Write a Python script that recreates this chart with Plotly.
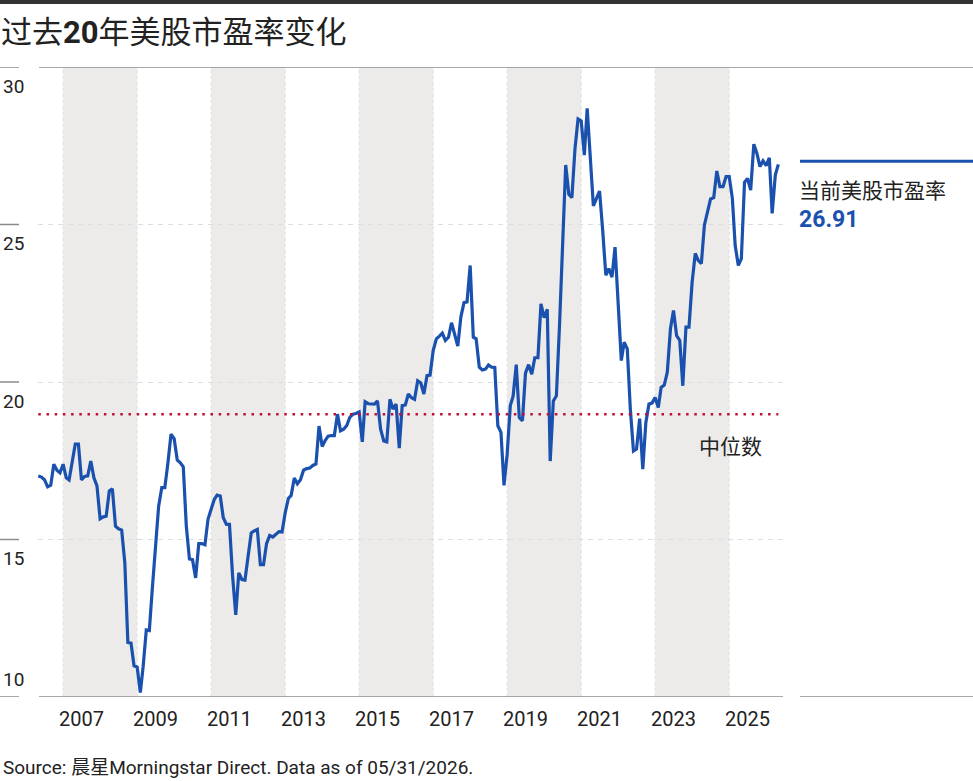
import pandas as pd
import plotly.graph_objects as go

# monthly P/E, first month May 2006
pe = [
    17.02, 16.98, 16.90, 16.67, 16.72, 17.39, 17.20, 17.12, 17.39, 16.96,
    16.89, 17.55, 18.03, 18.03, 16.89, 17.00, 17.02, 17.49, 16.96, 16.70,
    15.66, 15.72, 15.74, 16.54, 16.61, 15.42, 15.34, 15.30, 14.26, 11.73,
    11.71, 10.99, 10.95, 10.14, 10.97, 12.13, 12.11, 13.51, 14.89, 16.06,
    16.65, 16.65, 17.44, 18.34, 18.20, 17.52, 17.44, 17.31, 15.42, 14.38,
    14.36, 13.78, 14.87, 14.87, 14.83, 15.64, 15.96, 16.27, 16.41, 16.38,
    15.69, 15.48, 15.48, 13.83, 12.61, 13.94, 13.73, 13.71, 14.47, 15.21,
    15.27, 15.32, 14.20, 14.20, 14.87, 15.13, 15.08, 15.16, 15.25, 15.24,
    15.85, 16.30, 16.40, 16.95, 16.77, 16.90, 17.20, 17.25, 17.27, 17.35,
    17.40, 18.60, 17.95, 18.15, 18.28, 18.30, 18.30, 18.98, 18.45, 18.50,
    18.62, 18.88, 18.98, 19.00, 19.05, 18.10, 19.37, 19.31, 19.30, 19.30,
    19.40, 18.50, 18.13, 18.10, 19.45, 19.14, 19.30, 17.90, 19.25, 19.27,
    19.62, 19.50, 19.45, 20.04, 19.97, 19.62, 20.20, 20.22, 21.00, 21.37,
    21.45, 21.55, 21.32, 21.42, 21.88, 21.47, 21.14, 22.06, 22.52, 22.54,
    23.70, 21.42, 21.37, 20.47, 20.38, 20.41, 20.54, 20.47, 20.46, 18.61,
    18.40, 16.72, 17.70, 19.25, 19.55, 20.55, 18.87, 18.77, 20.28, 20.55,
    20.25, 20.77, 20.77, 22.48, 22.04, 22.31, 17.49, 19.40, 19.56, 21.80,
    24.40, 26.89, 25.96, 25.85, 27.42, 28.35, 28.29, 27.20, 28.69, 27.20,
    25.59, 25.83, 26.06, 24.82, 23.39, 23.60, 23.33, 24.28, 22.43, 20.68,
    21.26, 21.05, 19.14, 17.81, 17.87, 18.84, 17.23, 18.71, 19.30, 19.33,
    19.51, 19.19, 19.83, 19.90, 20.31, 21.69, 22.27, 21.47, 21.32, 19.88,
    21.74, 21.74, 23.17, 24.08, 23.86, 23.76, 24.98, 25.46, 25.81, 25.85,
    26.70, 26.20, 26.20, 26.52, 26.52, 25.83, 24.33, 23.70, 23.92, 26.34,
    26.46, 26.09, 27.55, 27.26, 26.84, 27.02, 26.87, 27.12, 25.35, 26.57,
    26.91,
]
start_month = "2006-05-01"
median_pe = 18.98
current_label = "26.91"

band_starts = ["2007-01-01", "2011-01-01", "2015-01-01", "2019-01-01", "2023-01-01"]
band_ends = ["2009-01-01", "2013-01-01", "2017-01-01", "2021-01-01", "2025-01-01"]

year_ticks = ["2007", "2009", "2011", "2013", "2015", "2017", "2019", "2021", "2023", "2025"]
y_ticks = [30, 25, 20, 15, 10]

dates = pd.date_range(start_month, periods=len(pe), freq="MS")

W, H = 973, 781
L, R, T, B = 38, 190, 67, 84
PW, PH = W - L - R, H - T - B

LATIN = "Roboto, Noto Sans CJK SC, sans-serif"
CJK = "Noto Sans CJK SC, sans-serif"
BLUE = "#1B51AE"
RED = "#C0103A"
INK = "#222222"


def px(x):
    return (x - L) / PW


def py(y):
    return (T + PH - y) / PH


fig = go.Figure()
fig.add_trace(go.Scatter(
    x=dates, y=pe, mode="lines",
    line=dict(color=BLUE, width=3.2),
    hoverinfo="skip", showlegend=False,
))

shapes = []
for s, e in zip(band_starts, band_ends):
    shapes.append(dict(type="rect", xref="x", yref="paper", x0=s, x1=e, y0=0, y1=1,
                       fillcolor="#ECEBE9", line=dict(width=0), layer="below"))
    for d in (s, e):
        shapes.append(dict(type="line", xref="x", yref="paper", x0=d, x1=d, y0=0, y1=1,
                           line=dict(color="#E0E0E0", width=1, dash="3px,3px"), layer="below"))

# median
shapes.append(dict(type="line", xref="x", yref="y", x0=dates[0], x1=dates[-1],
                   y0=median_pe, y1=median_pe,
                   line=dict(color=RED, width=2.5, dash="2.5px,5.7px")))
# top and bottom rules
shapes.append(dict(type="line", xref="paper", yref="y", x0=px(39), x1=px(973), y0=30, y1=30,
                   line=dict(color="#8C8C8C", width=1.5)))
shapes.append(dict(type="line", xref="paper", yref="y", x0=px(39), x1=px(783), y0=10, y1=10,
                   line=dict(color="#8C8C8C", width=1.5)))
shapes.append(dict(type="line", xref="paper", yref="y", x0=px(800), x1=px(973), y0=10, y1=10,
                   line=dict(color="#8C8C8C", width=1.5)))
for v in y_ticks:
    shapes.append(dict(type="line", xref="paper", yref="y", x0=px(0), x1=px(19), y0=v, y1=v,
                       line=dict(color="#8C8C8C", width=1.5)))
# current value marker line
shapes.append(dict(type="line", xref="paper", yref="y", ysizemode="pixel", yanchor=pe[-1],
                   x0=px(800), x1=px(973), y0=3, y1=3,
                   line=dict(color=BLUE, width=3)))
# dark rule at the very top of the page
shapes.append(dict(type="rect", xref="paper", yref="paper", x0=px(0), x1=px(W), y0=py(0), y1=py(4),
                   fillcolor="#333333", line=dict(width=0)))

annotations = []
for v in y_ticks:
    annotations.append(dict(xref="paper", yref="y", x=px(1), y=v, text=str(v),
                            xanchor="left", yanchor="middle", showarrow=False,
                            yshift=18 if v == 10 else -19,
                            font=dict(family=LATIN, size=19, color=INK)))
annotations += [
    dict(xref="paper", yref="y", x=px(764), y=median_pe, yshift=-31, text="中位数",
         xanchor="right", yanchor="middle", showarrow=False,
         font=dict(family=CJK, size=21, color=INK)),
    dict(xref="paper", yref="paper", x=px(797), y=py(189), text="当前美股市盈率",
         xanchor="left", yanchor="middle", showarrow=False,
         font=dict(family=CJK, size=21, color=INK)),
    dict(xref="paper", yref="paper", x=px(797), y=py(219), text="<b>" + current_label + "</b>",
         xanchor="left", yanchor="middle", showarrow=False,
         font=dict(family=LATIN, size=23, color=BLUE)),
    dict(xref="paper", yref="paper", x=px(1), y=py(767),
         text="Source: 晨星Morningstar Direct. Data as of 05/31/2026.",
         xanchor="left", yanchor="middle", showarrow=False,
         font=dict(family=LATIN, size=19, color=INK)),
]

fig.update_layout(
    width=W, height=H,
    margin=dict(l=L, r=R, t=T, b=B),
    paper_bgcolor="white", plot_bgcolor="white",
    title=dict(
        text="过去<span style=\"font-family:Roboto, sans-serif\"><b>20</b></span>年美股市盈率变化",
        x=1 / W, xanchor="left", y=1 - 32 / H, yanchor="middle",
        font=dict(family=CJK, size=31, color=INK),
    ),
    shapes=shapes,
    annotations=annotations,
    xaxis=dict(
        type="date",
        range=["2006-04-28", "2026-06-16"],
        tickvals=[y + "-07-01" for y in year_ticks],
        ticktext=year_ticks,
        showgrid=False, zeroline=False, showline=False, ticks="",
        tickfont=dict(family=LATIN, size=20, color=INK),
        ticklabelstandoff=8,
    ),
    yaxis=dict(
        range=[10, 30],
        tickvals=[15, 20, 25],
        showticklabels=False,
        showgrid=True, gridcolor="#DDDDDD", griddash="5px,5px", gridwidth=1,
        zeroline=False, showline=False, ticks="",
    ),
)

fig.write_html("out.html", config={"displayModeBar": False},
               post_script="document.body.style.margin='0';document.body.style.overflow='hidden';")
